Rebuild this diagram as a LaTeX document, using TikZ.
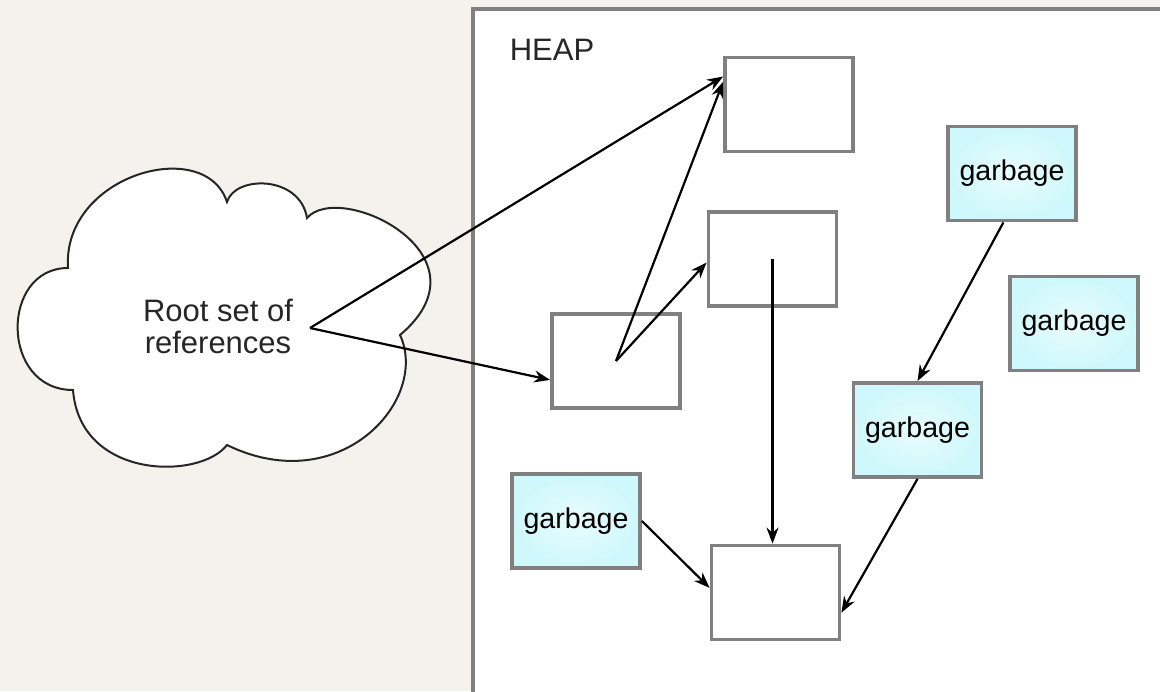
\documentclass[tikz,border=0pt]{standalone}
\usepackage{fontspec}
\setmainfont{Liberation Sans}
\usetikzlibrary{arrows.meta}
\definecolor{bgcolor}{RGB}{243,242,236}
\definecolor{boxborder}{RGB}{128,128,128}
\definecolor{garbagefill}{RGB}{206,248,251}
\tikzstyle{obj}=[draw=boxborder,line width=1.9pt,fill=white,minimum width=64pt,minimum height=47pt,inner sep=0pt]
\tikzstyle{garbage}=[obj,inner color=white!55!garbagefill,outer color=garbagefill,font=\fontsize{14.3}{16}\selectfont]
\tikzstyle{ref}=[-{Stealth[length=8pt,width=6pt]},line width=1.1pt,black]

\begin{document}
\begin{tikzpicture}[x=0.5pt,y=-0.5pt]
  \fill[bgcolor] (0,0) rectangle (1160,691);
  \useasboundingbox (0,0) rectangle (1160,691);
  \draw[boxborder,line width=1.9pt,fill=white] (473,9) rectangle (1175,705);
  \node (heap) at (552,50) [text=black!85,font=\fontsize{15.5}{16}\selectfont] {HEAP};
  \draw[black!85,line width=1pt,fill=white] (68,268)
    .. controls (62,175) and (205,135) .. (227,202)
    .. controls (235,175) and (300,175) .. (307,218)
    .. controls (340,180) and (495,255) .. (400,335)
    .. controls (430,400) and (340,500) .. (227,445)
    .. controls (200,480) and (80,480) .. (73,390)
    .. controls (0,390) and (0,268) .. cycle;
  \node (root) at (218,326) [align=center,text=black!85,font=\fontsize{15.5}{16}\selectfont] {Root set of\\references};
  \coordinate (rootref) at (310,328);
  \node[obj] (A) at (789,104.5) {};
  \node[obj] (B) at (772.5,259) {};
  \node[obj] (C) at (616,361) {};
  \node[obj] (D) at (775.5,592.5) {};
  \node[garbage] (G1) at (576,521) {garbage};
  \node[garbage] (G2) at (1012,173.5) {garbage};
  \node[garbage] (G3) at (1074,323.5) {garbage};
  \node[garbage] (G4) at (917.5,430) {garbage};
  \draw[ref] (rootref) -- (A.157);
  \draw[ref] (rootref) -- (C.196);
  \draw[ref] (C.center) -- (A.161);
  \draw[ref] (C.center) -- (B.183);
  \draw[ref] (B.center) -- (B.center |- D.north);
  \draw[ref] (G1.east) -- (D.176);
  \draw[ref] (G4.south) -- (D.-17);
  \draw[ref] (G2.260) -- (G4.north);
\end{tikzpicture}
\end{document}
